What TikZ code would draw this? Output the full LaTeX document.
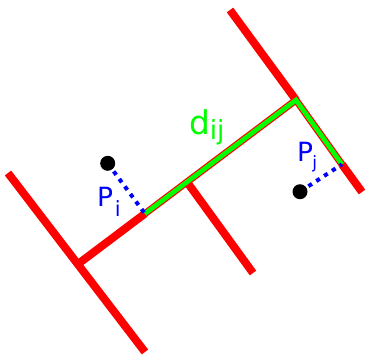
\documentclass[tikz,border=0pt]{standalone}
\usepackage{fontspec}
\setmainfont{DejaVu Sans}
\usetikzlibrary{calc}
\definecolor{roadred}{RGB}{255,0,0}
\definecolor{routegreen}{RGB}{0,255,0}
\definecolor{footblue}{RGB}{0,0,255}
\tikzset{
  road/.style={roadred,line width=6.8pt},
  routeedge/.style={roadred,line width=6pt,line join=miter},
  routecore/.style={routegreen,line width=4pt,line join=miter},
  foot/.style={footblue,line width=3.4pt,dash pattern=on 3.6pt off 4.4pt},
  pointdot/.style={circle,fill=black,inner sep=0pt,minimum size=12.8pt},
  lbl/.style={anchor=base west,inner sep=0pt},
}
\newcommand{\lowsub}[3]{\raisebox{-#1}{\fontsize{#2}{#2}\selectfont #3}}

\begin{document}
\begin{tikzpicture}[x=0.03cm,y=-0.03cm]
  \useasboundingbox (0,0) rectangle (369,358);
  % ---- street axes ----
  \coordinate (L1) at (8,173);   \coordinate (L2) at (145,352);
  \coordinate (J1) at (78,264);  \coordinate (J2) at (296,100);
  \coordinate (R1) at (230,10);  \coordinate (R2) at (362,192);
  \coordinate (M1) at ($(J1)!0.5!(J2)$);
  \coordinate (M2) at (253,273);
  % ---- feet of the two points ----
  \coordinate (Fi) at ($(J1)!0.307!(J2)$);
  \coordinate (Fj) at ($(R1)!0.848!(R2)$);
  % ---- streets ----
  \draw[road] (L1) -- (L2);
  \draw[road] (J1) -- (Fi);
  \draw[road] (R1) -- (J2);
  \draw[road] (Fj) -- (R2);
  \draw[road] (M1) -- (M2);
  % ---- route along the streets ----
  \draw[routeedge] (Fi) -- (J2) -- (Fj);
  \draw[routecore] (Fi) -- (J2) -- (Fj);
  % ---- points + projections ----
  \node[pointdot] (Pi) at (107.7,163.3) {};
  \node[pointdot] (Pj) at (300,191.7) {};
  \draw[foot,dash phase=-2pt] (Pi) -- (Fi);
  \draw[foot,dash phase=-2pt] (Pj) -- (Fj);
  % ---- labels ----
  \node[lbl,footblue,font=\fontsize{22.6}{24}\selectfont] (PiLabel) at (96.8,206.7)
      {P\kern1.5pt\lowsub{8.5pt}{17.9}{i}};
  \node[lbl,footblue,font=\fontsize{22.6}{24}\selectfont] (PjLabel) at (296.8,161.7)
      {P\kern-0.5pt\lowsub{5.6pt}{14.5}{j}};
  \node[lbl,routegreen,font=\fontsize{28}{30}\selectfont] (dLabel) at (188.8,134)
      {d\lowsub{5.1pt}{22.5}{ij}};
\end{tikzpicture}
\end{document}
